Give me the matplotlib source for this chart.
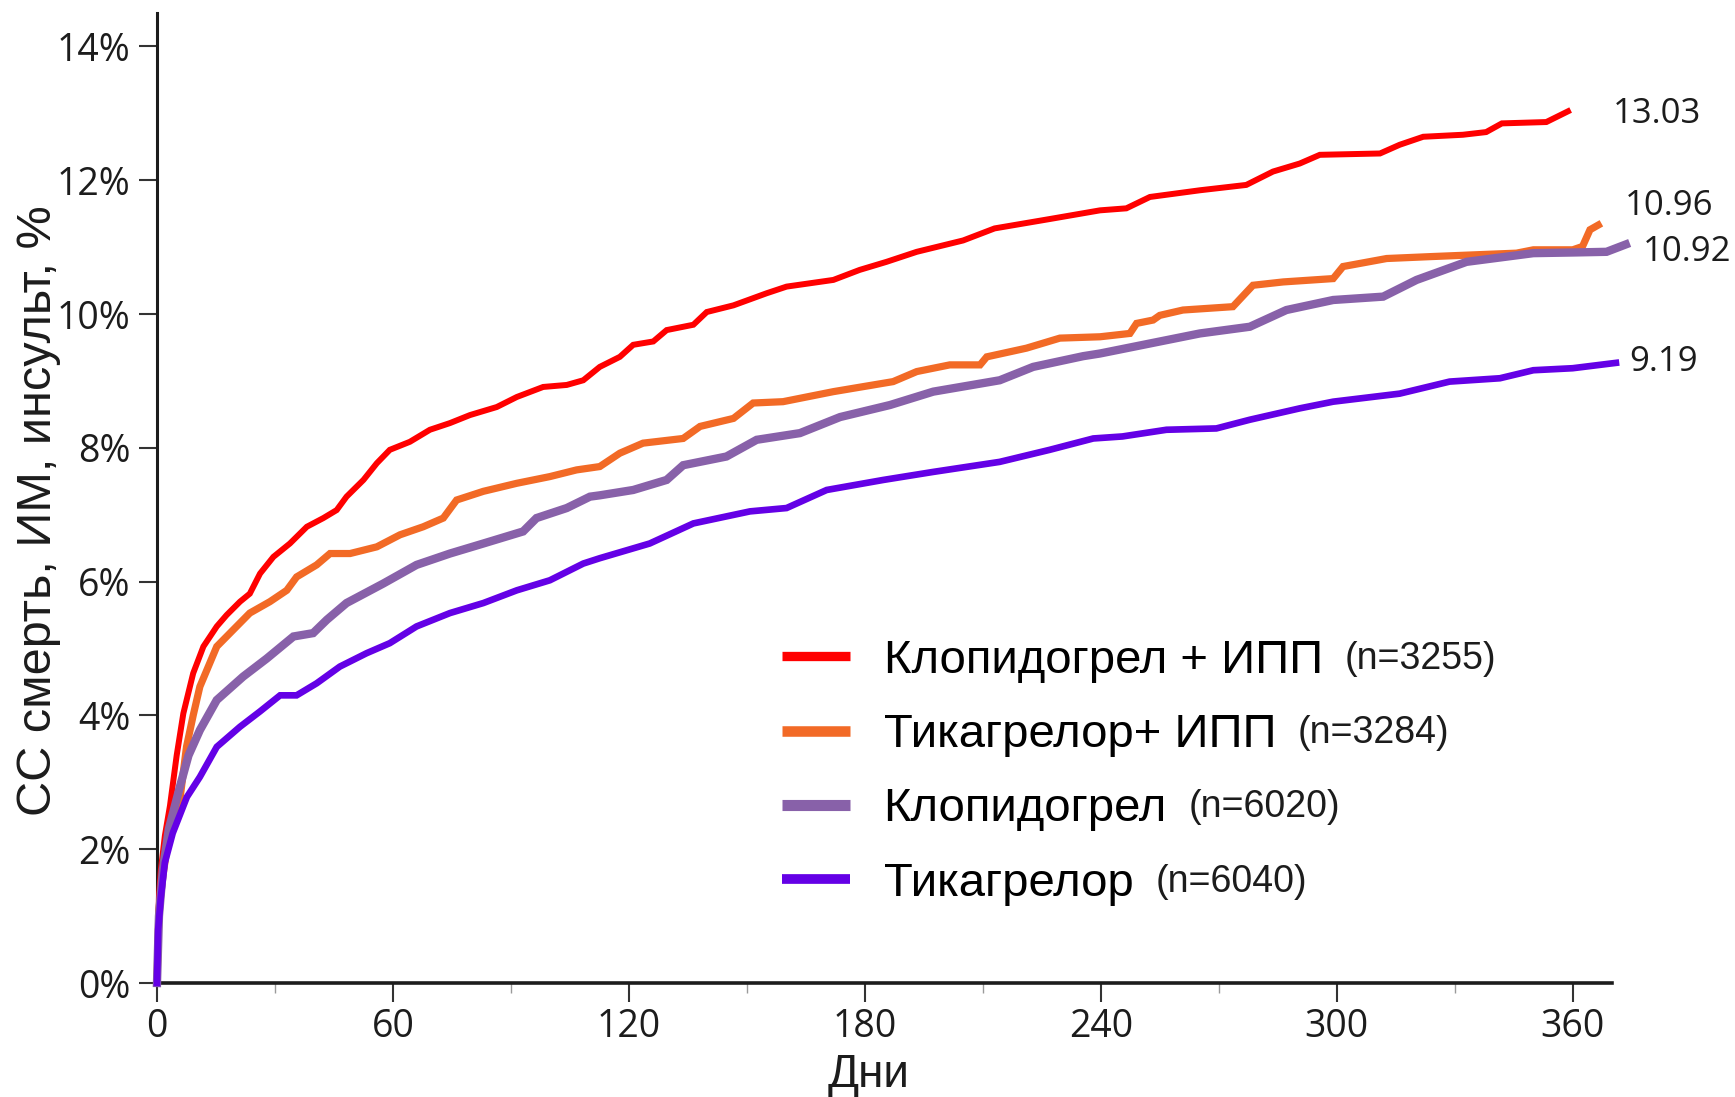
import matplotlib
matplotlib.use("Agg")
import matplotlib.pyplot as plt
from matplotlib.font_manager import FontProperties

# Kaplan–Meier curves, % of patients with CV death / MI / stroke by day
DAYS_CLOP_PPI = [0, 0.5, 1, 2, 3.3, 5, 6.7, 9.2, 11.8, 15.2, 17.7, 21.1, 23.6, 26.2,
                 29.6, 33.8, 38.1, 42.3, 45.7, 48.2, 52.5, 55.9, 59.2, 64.3, 69.4,
                 74.5, 79.6, 86.4, 91.5, 98.2, 104.2, 108.4, 112.6, 117.7, 121.1,
                 126.2, 129.6, 136.4, 139.8, 146.6, 155, 160.1, 172, 178.7, 185.5,
                 193.2, 205, 213, 227, 239.8, 246.5, 252.5, 265.2, 277, 283.8, 290.6,
                 295.7, 311, 316, 322, 332.1, 338, 342, 353.3, 358.8]
PCT_CLOP_PPI = [0, 1.3, 1.7, 2.2, 2.65, 3.4, 4.03, 4.63, 5.03, 5.33, 5.5, 5.7, 5.82, 6.12,
                6.37, 6.57, 6.82, 6.95, 7.07, 7.27, 7.52, 7.77, 7.97, 8.09, 8.27,
                8.37, 8.49, 8.61, 8.76, 8.91, 8.94, 9.01, 9.21, 9.36, 9.54,
                9.59, 9.76, 9.84, 10.03, 10.13, 10.31, 10.41, 10.51, 10.66, 10.78,
                10.93, 11.1, 11.28, 11.42, 11.55, 11.58, 11.75, 11.85, 11.93, 12.13, 12.25,
                12.38, 12.4, 12.53, 12.65, 12.68, 12.72, 12.85, 12.87, 13.03]

DAYS_TICA_PPI = [0, 0.5, 1.5, 3, 5.8, 7.5, 9.2, 10.9, 15.2, 19.4, 23.6, 28.7, 33, 35.5,
                 40.6, 44, 49.1, 55.9, 61.8, 67.7, 72.8, 76.2, 83, 91.5, 99.9, 106.7,
                 112.6, 117.7, 123.6, 133.8, 138.1, 146.6, 151.6, 159.2, 172, 187.2,
                 193.2, 201.6, 209.3, 211, 221.1, 229.6, 239.8, 247.4, 249.1, 253.3,
                 255, 260.9, 273.6, 278.7, 286.4, 299.1, 301.6, 312.7, 324.5, 345.7,
                 350, 360, 362.5, 364.4, 366.5]
PCT_TICA_PPI = [0, 1.1, 1.6, 2.2, 2.73, 3.53, 4.0, 4.43, 5.03, 5.28, 5.53, 5.7, 5.87, 6.07,
                6.25, 6.42, 6.42, 6.52, 6.7, 6.82, 6.95, 7.22, 7.35, 7.47, 7.57, 7.67,
                7.72, 7.92, 8.07, 8.14, 8.32, 8.44, 8.67, 8.69, 8.84, 8.99,
                9.14, 9.24, 9.24, 9.36, 9.49, 9.64, 9.66, 9.71, 9.86, 9.91,
                9.98, 10.06, 10.11, 10.43, 10.48, 10.53, 10.71, 10.83, 10.86, 10.91,
                10.96, 10.96, 11.01, 11.26, 11.33]

DAYS_CLOP = [0, 0.5, 1.5, 3, 5.8, 8, 10.9, 15.2, 21.9, 27.9, 34.7, 39.7, 43.2, 48.2,
             57.5, 66, 74.5, 83, 93.1, 96.5, 104.2, 110.1, 112.6, 121.1, 129.6, 133.8,
             144.8, 152.5, 163.5, 173.7, 186.4, 197.4, 214.3, 222.8, 235.5, 239.8,
             252.5, 265.2, 277.9, 287.2, 299.1, 311.8, 320.3, 333, 350, 360, 368.6,
             373.5]
PCT_CLOP = [0, 1.0, 1.7, 2.3, 2.93, 3.4, 3.78, 4.23, 4.58, 4.85, 5.18, 5.23, 5.43, 5.68,
            5.97, 6.25, 6.42, 6.57, 6.75, 6.95, 7.1, 7.27, 7.29, 7.37, 7.52, 7.74,
            7.87, 8.12, 8.22, 8.46, 8.64, 8.84, 9.01, 9.21, 9.37, 9.41,
            9.56, 9.71, 9.81, 10.06, 10.21, 10.26, 10.51, 10.78, 10.91, 10.92, 10.93,
            11.04]

DAYS_TICA = [0, 0.3, 1, 2, 4, 7.6, 10.9, 15.2, 21.1, 26.2, 31.3, 35.5, 40.6, 46.5,
             53.3, 59.2, 66, 74.5, 83, 91.5, 99.9, 108.4, 112.6, 125.3, 136.4, 150.8,
             160.1, 170.3, 184.7, 197.4, 214.3, 227, 238.1, 245.5, 256.7, 269.4, 277.9,
             290.6, 299.1, 316, 328.7, 341.5, 350, 360, 371]
PCT_TICA = [0, 0.8, 1.3, 1.8, 2.24, 2.78, 3.08, 3.53, 3.83, 4.06, 4.3, 4.3, 4.48, 4.73,
            4.93, 5.08, 5.33, 5.53, 5.68, 5.87, 6.02, 6.27, 6.35, 6.57, 6.87, 7.05,
            7.1, 7.37, 7.52, 7.64, 7.79, 7.97, 8.14, 8.17, 8.27, 8.29, 8.42,
            8.59, 8.69, 8.81, 8.99, 9.04, 9.16, 9.19, 9.27]

SERIES_LABELS = ["Клопидогрел + ИПП", "Тикагрелор+ ИПП", "Клопидогрел", "Тикагрелор"]
SERIES_N = ["(n=3255)", "(n=3284)", "(n=6020)", "(n=6040)"]
END_VALUES = [13.03, 10.96, 10.92, 9.19]

X_TICKS = [0, 60, 120, 180, 240, 300, 360]
X_MINOR = [30, 90, 150, 210, 270, 330]
Y_TICKS = [0, 2, 4, 6, 8, 10, 12, 14]

COLORS = ["#ff0000", "#f26a26", "#8861a9", "#6400e6"]
WIDTHS = [4.3, 5.2, 6.0, 4.8]
LEGEND_WIDTHS = [6.7, 7.6, 8.0, 7.0]
# where the end-of-follow-up numbers sit (data coords, left-aligned)
END_LABEL_POS = [(370.2, 12.99), (373.2, 11.61), (377.9, 10.92), (374.5, 9.28)]

INK = "#1c1c1c"
NUM_FONT = "Open Sans"
TXT_FONT = "Liberation Sans"

W, H = 1735, 1097
fig = plt.figure(figsize=(W / 100, H / 100), dpi=100)
fig.patch.set_facecolor("white")
ax = fig.add_axes([157 / W, 114 / H, 1455 / W, 970 / H])

series = [
    (DAYS_CLOP_PPI, PCT_CLOP_PPI),
    (DAYS_TICA_PPI, PCT_TICA_PPI),
    (DAYS_CLOP, PCT_CLOP),
    (DAYS_TICA, PCT_TICA),
]
lines = []
for (d, p), c, lw in zip(series, COLORS, WIDTHS):
    ln, = ax.plot(d, p, color=c, lw=lw, solid_joinstyle="miter", clip_on=False, zorder=3)
    lines.append(ln)

ax.set_xlim(0, 370)
ax.set_ylim(0, 14.5)

for side in ("top", "right"):
    ax.spines[side].set_visible(False)
ax.spines["left"].set_linewidth(2.2)
ax.spines["bottom"].set_linewidth(2.6)
ax.spines["left"].set_color(INK)
ax.spines["bottom"].set_color(INK)

ax.set_xticks(X_TICKS)
ax.set_xticks(X_MINOR, minor=True)
ax.set_yticks(Y_TICKS)
ax.set_yticklabels([f"{v}%" for v in Y_TICKS])
ax.tick_params(axis="x", which="major", length=14, width=1.5, color="#333333", pad=4)
ax.tick_params(axis="x", which="minor", length=7, width=1.0, color="#9a9a9a")
ax.tick_params(axis="y", which="major", length=13, width=1.5, color="#333333", pad=6)
for lab in ax.get_xticklabels() + ax.get_yticklabels():
    lab.set_fontfamily(NUM_FONT)
    lab.set_fontsize(27)
    lab.set_color(INK)

ax.set_ylabel("СС смерть, ИМ, инсульт, %", fontsize=35, family=TXT_FONT, color=INK)
ax.yaxis.set_label_coords(-0.066, 0.487)
ax.set_xlabel("Дни", fontsize=33, family=TXT_FONT, color=INK)
ax.xaxis.set_label_coords(0.489, -0.072)

for (x, y), v in zip(END_LABEL_POS, END_VALUES):
    ax.text(x, y, f"{v:.2f}", ha="left", va="center", fontsize=25,
            family=NUM_FONT, color=INK, clip_on=False)

leg = ax.legend(lines, SERIES_LABELS, loc="upper left",
                bbox_to_anchor=(782 / W, (H - 639) / H), bbox_transform=fig.transFigure,
                frameon=False, prop=FontProperties(family=TXT_FONT, size=34),
                handlelength=1.45, handletextpad=0.7, labelspacing=0.64,
                borderpad=0, borderaxespad=0)
for h, lw in zip(leg.legend_handles, LEGEND_WIDTHS):
    h.set_linewidth(lw)
    h.set_solid_capstyle("butt")

# group sizes sit right after each legend entry, in a smaller face
fig.canvas.draw()
renderer = fig.canvas.get_renderer()
for txt, n in zip(leg.get_texts(), SERIES_N):
    bb = txt.get_window_extent(renderer)
    fig.text((bb.x1 + 22) / W, (bb.y0 + bb.y1) / 2 / H + 2 / H, n,
             ha="left", va="center", fontsize=27, family=TXT_FONT, color=INK)

fig.savefig("out.png", dpi=100, facecolor="white")
